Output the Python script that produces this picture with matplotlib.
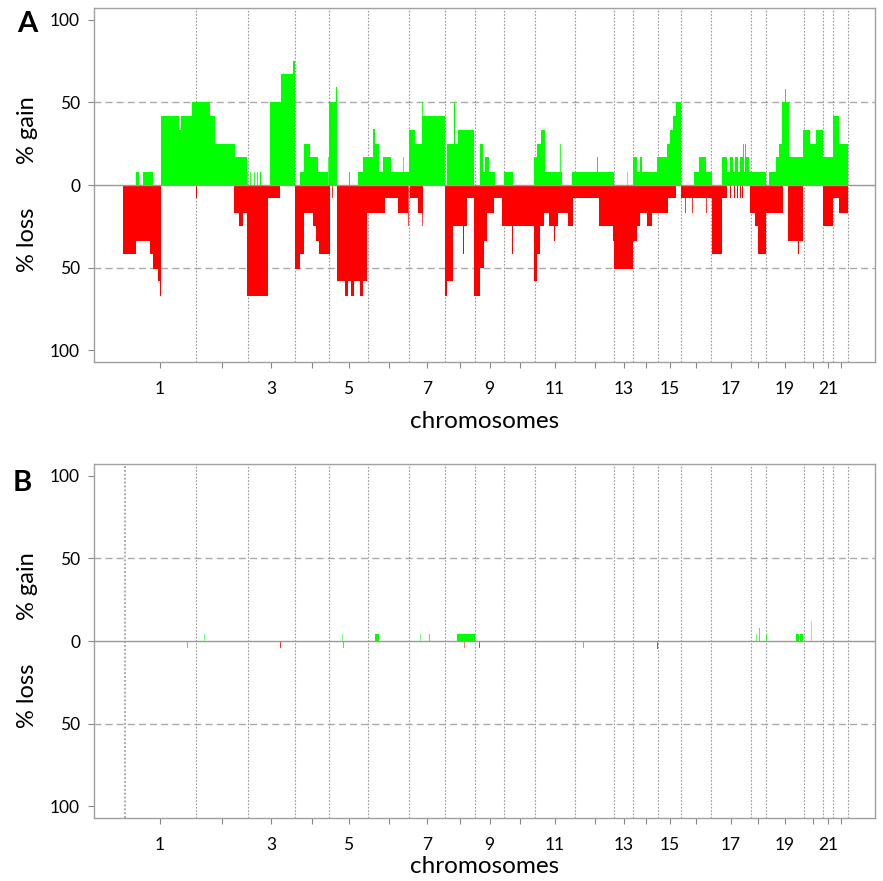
import matplotlib
matplotlib.use("Agg")
import matplotlib.pyplot as plt

plt.rcParams['font.family'] = ['Lato', 'DejaVu Sans']

# chromosome end positions (cumulative index units, chr1 starts at 0)
chrom_ends = [73, 125, 171.5, 206, 245, 286, 322, 352, 381, 412, 452, 491,
              510, 535, 558, 588, 627.5, 643, 680.5, 700, 710, 725]
chrom_names = [str(i) for i in range(1, 23)]
label_every = 2  # only odd chromosomes labeled

# Panel A: (start, end, percent)
gain_A = [
    (12.7, 16, 8), (20, 30, 8), (38, 56, 42), (56, 58, 33), (58, 69, 42), (69, 73, 50),
    (73, 87, 50), (87, 92, 42), (92, 112, 25), (112, 123.7, 17),
    (124, 124.8, 8), (127, 127.8, 8), (131, 131.8, 8), (134, 134.8, 8), (137, 138.3, 8),
    (147, 158, 50), (158, 170, 67), (170, 171.5, 75),
    (177, 181, 8), (181, 187, 25), (187, 195.3, 17), (195.3, 205.3, 8), (205.3, 206, 17),
    (206, 214.3, 50), (212.7, 213.7, 59), (226.3, 227.3, 8), (235.3, 240.3, 8), (240.3, 245, 17),
    (245, 250.3, 17), (250.3, 252, 34), (252, 256.3, 25), (256.3, 260.3, 8), (260.3, 268, 17),
    (268, 286, 8), (280.3, 281, 17),
    (286, 292, 33), (292, 298.7, 25), (298.7, 302, 42), (298.7, 299.5, 50), (302, 322, 42),
    (323.7, 335.3, 25), (331, 332, 50), (335.3, 351.3, 33),
    (357, 360.3, 25), (360.3, 362.3, 8), (362.3, 365.7, 17), (365.7, 372, 8),
    (381, 389.7, 8),
    (411, 414.3, 17), (414.3, 417.7, 25), (417.7, 422, 33), (422, 438.7, 8), (436.7, 437.5, 25),
    (448.7, 452, 8),
    (452, 491, 8), (474, 475, 17),
    (504.2, 504.8, 8),
    (509.7, 513.7, 17), (513.7, 517, 8), (517, 518.7, 17), (518.7, 534.3, 8),
    (534.3, 544.3, 17), (544.3, 547, 25), (547, 550.3, 33), (550.3, 553, 42), (553, 558, 50),
    (571, 576.3, 8), (576.3, 583, 17), (583, 588.7, 8),
    (598.7, 603.7, 17), (603.7, 607, 8), (607, 610.3, 17), (610.3, 612, 8), (612, 615.3, 17),
    (615.3, 617, 8), (617, 620.3, 17), (620.3, 622, 8), (620, 621, 25), (622, 623, 25),
    (622, 626, 17), (626, 643, 8),
    (646.3, 653, 8), (653, 656.3, 17), (656.3, 658.7, 25), (658.7, 663.7, 50), (661.7, 662.7, 58),
    (663.7, 666.3, 50), (666.3, 680.3, 17),
    (680.3, 687, 33), (687, 692.7, 25), (692.7, 700.3, 33),
    (700.3, 710.3, 17),
    (710.3, 716.3, 42), (716.3, 724.7, 25),
]
loss_A = [
    (0, 13, 42), (13, 27, 34), (27, 30.3, 42), (30.3, 35.3, 51), (35.3, 37, 58), (37, 38, 67),
    (72.5, 73.5, 8),
    (111, 116, 17), (116, 120, 25), (120, 124, 17),
    (124, 145, 67), (145, 157, 8),
    (171.5, 177, 51), (177, 181, 42), (181, 190.3, 17), (190.3, 193, 25), (193, 196.3, 34),
    (196.3, 207, 42), (208.5, 209.3, 8),
    (214.3, 243.7, 58), (222, 225.3, 67), (227.7, 231, 67), (237, 239.7, 67),
    (243.7, 262, 17), (262, 275.3, 8), (275.3, 285.3, 17), (285.3, 286, 25),
    (287, 295.3, 8), (295.3, 300.3, 17), (299.3, 300, 25),
    (322, 323.7, 67), (323.7, 330.3, 58), (330.3, 343.7, 25), (339.7, 340.7, 42), (343.7, 351, 8),
    (351, 357, 67), (357, 361, 50), (361, 363.7, 34), (363.7, 371, 17), (371, 378.7, 8),
    (378.7, 411, 25), (389.3, 390.3, 42),
    (411, 413.7, 58), (413.7, 417, 42), (417, 421, 25), (421, 426.3, 17), (426.3, 435.3, 25),
    (431, 432, 34), (435.3, 445.3, 17), (445.3, 450.3, 25),
    (450.3, 476.3, 8), (476.3, 491.3, 25), (490, 491, 34),
    (491.3, 509.7, 51),
    (509.7, 513.7, 34), (513.7, 517, 25), (517, 523.7, 17), (523.7, 528.7, 25), (528.7, 545.3, 17),
    (545.3, 553, 8),
    (558, 587, 8), (562, 562.8, 17), (569, 569.8, 17), (583, 583.8, 17), (587, 589.7, 8),
    (588.7, 598.7, 42), (598.7, 603.7, 8),
    (607, 608, 8), (611, 612, 8), (614, 615, 8), (617, 618, 8), (619, 620, 8),
    (627, 632, 17), (632, 634.7, 25), (634.7, 643, 42),
    (643, 659.7, 17), (665.3, 680.3, 34), (674.7, 675.7, 42),
    (700.3, 710.3, 25),
    (710.3, 716.3, 8), (716.3, 724.7, 17),
]

# Panel B
gain_B = [
    (252, 256.3, 4), (333.7, 352, 4),
    (81, 81.5, 4), (218.5, 219.0, 4), (296.7, 297.2, 4), (305.7, 306.5, 4),
    (632.7, 633.3, 4), (636, 636.8, 8), (642.7, 643.4, 4),
    (672.7, 676, 4), (677, 680.3, 4), (687.7, 688.2, 12),
]
loss_B = [
    (64.4, 64.9, 4), (157.4, 158.2, 4), (220, 220.5, 4), (340.7, 341.2, 4),
    (356, 356.8, 4), (459.5, 460.0, 4), (534, 534.8, 5),
]

GREEN = '#00ff00'
RED = '#ff0000'

fig = plt.figure(figsize=(8.83, 8.81), dpi=100)


def draw_bars(ax, segs, color, sign):
    for s, e, v in segs:
        w = e - s
        # very narrow segments are drawn one unit wide but faint, like in the reference
        alpha = min(1.0, w)
        ax.bar(s, sign * v, width=max(w, 1.0), align='edge', color=color,
               alpha=alpha, linewidth=0, zorder=2)


def draw_panel(rect, gains, losses, letter, letter_xy, chr1_line, xlabelpad):
    ax = fig.add_axes(rect)
    draw_bars(ax, gains, GREEN, 1)
    draw_bars(ax, losses, RED, -1)
    ax.axhline(0, color='#999999', lw=1.0, zorder=3)
    for yv in (50, -50):
        ax.axhline(yv, color='#aaaaaa', lw=1.0, ls=(0, (5, 3)), zorder=1)
    if chr1_line:
        ax.axvline(1.5, color='#aaaaaa', lw=1.4, ls=(0, (1, 1)), zorder=1)
    for b in chrom_ends:
        ax.axvline(b, color='#999999', lw=0.8, ls=(0, (1.5, 1.5)), zorder=1)
    ax.set_xlim(-29, 752)
    ax.set_ylim(-107, 107)
    starts = [0] + chrom_ends[:-1]
    centers = [(a + b) / 2 for a, b in zip(starts, chrom_ends)]
    ax.set_xticks(centers)
    ax.set_xticklabels([n if i % label_every == 0 else '' for i, n in enumerate(chrom_names)],
                       fontsize=12.5)
    ax.set_yticks([100, 50, 0, -50, -100])
    ax.set_yticklabels(['100', '50', '0', '50', '100'], fontsize=12.5)
    ax.tick_params(axis='both', length=4, color='#888888', width=0.8, pad=6)
    ax.tick_params(axis='x', pad=10)
    for sp in ax.spines.values():
        sp.set_color('#a0a0a0')
        sp.set_linewidth(1.0)
    ax.set_xlabel('chromosomes', fontsize=17.5, labelpad=xlabelpad)
    ax.text(-0.085, 0.655, '% gain', transform=ax.transAxes, rotation=90,
            ha='center', va='center', fontsize=17)
    ax.text(-0.085, 0.345, '% loss', transform=ax.transAxes, rotation=90,
            ha='center', va='center', fontsize=17)
    ax.text(letter_xy[0], letter_xy[1], letter, transform=ax.transAxes, ha='center',
            va='center', fontsize=21, fontweight='bold')
    return ax


draw_panel([94 / 883, 1 - 362 / 881, (875 - 94) / 883, (362 - 8) / 881], gain_A, loss_A,
           'A', (-0.085, 0.955), False, 10)
draw_panel([94 / 883, 1 - 818 / 881, (875 - 94) / 883, (818 - 464) / 881], gain_B, loss_B,
           'B', (-0.092, 0.946), True, 2)

fig.savefig('out.png', dpi=100)
